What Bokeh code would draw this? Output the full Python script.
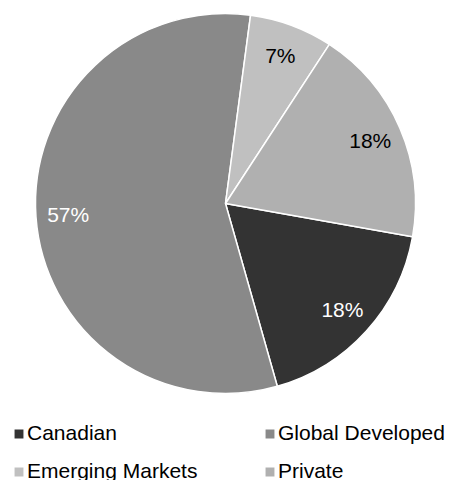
import math
from bokeh.plotting import figure
from bokeh.models import ColumnDataSource, Range1d, Legend, LegendItem
from bokeh.core.properties import value
from bokeh.embed import file_html
from bokeh.resources import INLINE

# ---- data ----
categories = ["Canadian", "Global Developed", "Emerging Markets", "Private"]
shares = [17.8, 56.5, 7.1, 18.6]
labels = ["18%", "57%", "7%", "18%"]
colors = ["#333333", "#898989", "#c0c0c0", "#b0b0b0"]
label_colors = ["#ffffff", "#ffffff", "#000000", "#000000"]

# ---- layout constants ----
FIRST_ANGLE = math.radians(-10.1)
R = 190
LABEL_R = 0.83 * R
FONT = "Liberation Sans"

total = sum(shares)
start, end, lx, ly = [], [], [], []
cum = 0.0
for s in shares:
    a0 = FIRST_ANGLE - cum / total * 2 * math.pi
    cum += s
    a1 = FIRST_ANGLE - cum / total * 2 * math.pi
    start.append(a0)
    end.append(a1)
    mid = (a0 + a1) / 2
    lx.append(LABEL_R * math.cos(mid))
    ly.append(LABEL_R * math.sin(mid))

src = ColumnDataSource(dict(
    cat=categories, start=start, end=end, color=colors,
    lx=lx, ly=ly, label=labels, lcolor=label_colors,
))

p = figure(width=455, height=480, x_range=Range1d(-225, 230), y_range=Range1d(-277, 203),
           output_backend="svg", toolbar_location=None, min_border=0,
           x_axis_location=None, y_axis_location=None)
p.grid.visible = False
p.outline_line_color = None

r = p.wedge(x=0, y=0, radius=R, start_angle="start", end_angle="end", direction="clock",
            fill_color="color", line_color="#ffffff", line_width=1.5, source=src)

p.text(x="lx", y="ly", text="label", text_color="lcolor", text_align="center",
       text_baseline="middle", text_font=value(FONT), text_font_size="21px", source=src)

def make_legend(idxs, loc):
    items = [LegendItem(label=categories[i], renderers=[r], index=i) for i in idxs]
    return Legend(items=items, location=loc, orientation="vertical",
                  label_text_font=FONT, label_text_font_size="21px", label_text_color="#000000",
                  glyph_width=13, glyph_height=13, label_standoff=2, label_height=24,
                  spacing=14, padding=0, margin=0, border_line_color=None,
                  background_fill_alpha=0)

p.add_layout(make_legend([0, 2], (12, -3)))
p.add_layout(make_legend([1, 3], (263, -3)))

open("out.html", "w").write(file_html(p, INLINE))
